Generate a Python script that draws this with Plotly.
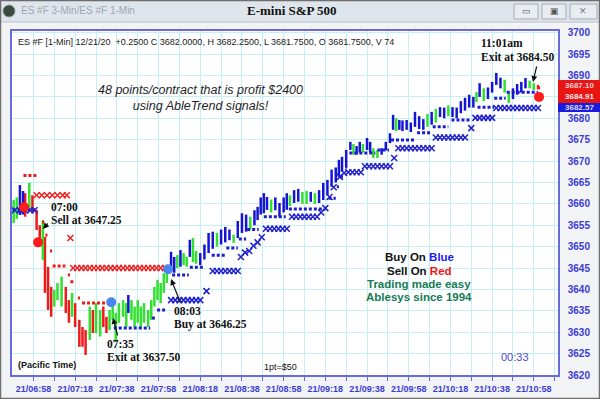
import plotly.graph_objects as go

# ---------------- data (minutes after 06:58, 21 Dec 2020, Pacific time) ----------------
bar_time = [-9.5, -8, -6.5, -5, -4, -2, -0.5, 1.5, 3, 4.5, 5.5, 7, 8.5, 10, 11.5, 13.5, 15.5, 17, 18.5, 20,
            22, 23.5, 25, 27, 28.5, 30, 32, 33.5, 35, 36.5, 38, 39.5, 41, 43, 44.5, 45.5, 47, 48.5, 50, 51.5,
            53, 55, 56.5, 58, 59.5, 61, 62.5, 64, 66, 67.5, 69, 70.5, 72, 73.5, 75, 76.5, 78, 80, 82, 84,
            86, 88, 90, 92, 94, 96, 98, 100, 102, 104, 106, 107.5, 109, 110.5, 112, 114, 116, 118, 120, 121.5,
            123, 125, 127, 129, 131, 133, 135, 137, 139, 141, 143, 145, 146.5, 148, 150, 152, 153.5, 155, 156.5, 158,
            160, 161.5, 163, 165, 167, 169, 171, 172.5, 174, 175.5, 177, 179, 181, 183, 185, 187, 189, 191, 193, 195,
            197, 199, 201, 203, 205, 207, 209, 211, 212.5, 214, 216, 218, 220, 222, 224, 226, 228, 230, 232, 234,
            236, 238, 240, 242]
bar_low = [3655.5, 3656.5, 3657.4, 3657.5, 3657.0, 3658.6, 3657.8, 3653.9, 3651.6, 3646.9, 3639.2, 3635.2, 3633.6, 3636.0, 3637.5, 3636.0, 3634.5, 3632.2, 3633.6, 3631.2,
           3626.6, 3626.6, 3624.7, 3628.2, 3629.8, 3629.8, 3629.0, 3631.2, 3629.8, 3630.5, 3632.9, 3628.0, 3632.2, 3633.6, 3631.2, 3634.5, 3632.9, 3631.2, 3632.2, 3631.2,
           3632.2, 3631.2, 3632.9, 3636.0, 3637.5, 3636.8, 3639.2, 3641.5, 3644.5, 3643.9, 3645.0, 3645.3, 3645.7, 3645.3, 3647.6, 3646.4, 3646.0, 3645.7, 3647.0, 3648.5,
           3649.5, 3650.0, 3650.5, 3651.0, 3651.5, 3650.9, 3652.0, 3653.2, 3653.5, 3654.0, 3655.0, 3656.2, 3657.5, 3657.8, 3658.6, 3658.0, 3658.5, 3657.0, 3658.0, 3658.6,
           3659.5, 3660.2, 3660.5, 3660.0, 3660.0, 3660.5, 3660.0, 3660.2, 3660.9, 3662.0, 3664.0, 3665.0, 3666.3, 3667.5, 3668.6, 3672.6, 3671.5, 3671.5, 3672.0, 3672.0,
           3672.6, 3672.0, 3670.7, 3670.7, 3671.5, 3672.5, 3674.2, 3677.3, 3677.0, 3677.3, 3677.0, 3677.3, 3676.8, 3678.0, 3677.5, 3677.3, 3678.0, 3678.5, 3679.0, 3680.3,
           3680.0, 3680.5, 3680.3, 3680.0, 3681.2, 3681.8, 3682.5, 3682.5, 3683.8, 3685.0, 3684.0, 3684.5, 3686.0, 3687.8, 3687.0, 3686.0, 3683.6, 3684.5, 3685.5, 3686.0,
           3687.0, 3687.0, 3686.6, 3686.8]
bar_high = [3660.9, 3661.5, 3664.4, 3663.0, 3662.5, 3664.9, 3662.0, 3658.6, 3655.0, 3656.2, 3652.3, 3645.3, 3640.6, 3639.9, 3641.5, 3643.0, 3640.6, 3637.5, 3639.2, 3636.8,
            3632.9, 3631.2, 3630.5, 3636.0, 3635.2, 3636.8, 3635.2, 3636.0, 3633.6, 3635.2, 3636.8, 3634.5, 3636.8, 3637.5, 3636.8, 3638.7, 3637.5, 3636.0, 3637.5, 3636.0,
            3636.8, 3635.2, 3637.5, 3640.6, 3642.2, 3641.5, 3643.8, 3645.3, 3648.8, 3647.6, 3648.0, 3649.2, 3648.5, 3647.6, 3651.6, 3652.0, 3649.0, 3648.5, 3650.5, 3653.2,
            3653.5, 3653.2, 3654.0, 3654.6, 3654.0, 3652.8, 3656.0, 3657.8, 3657.5, 3657.0, 3658.5, 3659.3, 3661.5, 3662.5, 3661.6, 3661.0, 3661.5, 3660.2, 3661.5, 3662.5,
            3662.0, 3663.2, 3663.5, 3662.8, 3663.0, 3662.8, 3662.5, 3663.2, 3664.9, 3665.6, 3668.0, 3668.5, 3670.3, 3671.0, 3672.6, 3674.5, 3674.0, 3673.5, 3674.5, 3674.0,
            3675.4, 3674.5, 3673.0, 3672.6, 3673.0, 3674.5, 3676.5, 3680.8, 3680.0, 3679.6, 3679.5, 3679.6, 3679.0, 3681.5, 3680.5, 3679.8, 3681.0, 3681.5, 3682.2, 3682.6,
            3682.5, 3683.0, 3682.6, 3682.5, 3684.0, 3684.8, 3685.5, 3685.0, 3686.1, 3688.2, 3687.0, 3687.2, 3688.5, 3690.6, 3689.5, 3689.0, 3686.1, 3687.0, 3688.0, 3688.5,
            3689.4, 3688.8, 3688.2, 3687.8]
bar_trend = ["g", "g", "b", "b", "r", "g", "r", "r", "r", "g", "r", "r", "r", "g", "g", "g", "r", "r", "g", "r",
             "r", "r", "r", "g", "r", "g", "g", "r", "r", "g", "g", "g", "g", "g", "g", "b", "g", "g", "g", "g",
             "g", "g", "g", "g", "g", "g", "g", "g", "b", "b", "g", "b", "g", "g", "b", "g", "g", "b", "b", "b",
             "b", "g", "b", "b", "b", "g", "b", "b", "b", "g", "b", "b", "b", "b", "b", "g", "b", "b", "b", "b",
             "g", "b", "b", "g", "g", "b", "g", "b", "b", "b", "b", "b", "b", "b", "b", "b", "g", "b", "b", "g",
             "b", "b", "g", "g", "b", "b", "b", "b", "g", "b", "b", "b", "b", "b", "b", "b", "g", "b", "g", "b",
             "b", "g", "b", "b", "b", "b", "b", "b", "g", "b", "g", "b", "b", "b", "b", "g", "g", "b", "b", "b",
             "b", "g", "g", "r"]

# trailing stop levels (start minute, end minute, price)
red_stop_start = [-4.8, 4.2, 5.7, 7.9, 9.2, 16.5, 17.7, 21.3, 23.3, 241.8]
red_stop_end = [1.4, 5.2, 6.7, 8.9, 15.3, 17.5, 20.0, 22.3, 37.0, 243.0]
red_stop_price = [3666.6, 3655.7, 3652.7, 3649.0, 3645.5, 3643.4, 3641.8, 3638.0, 3636.8, 3687.1]

blue_stop_start = [-10.0, 38.5, 56.8, 59.3, 66.5, 75.0, 85.5, 92.5, 98.5, 102.5, 110.5, 122.5, 141.5, 145.5, 147.0,
                   149.5, 151.5, 165.0, 171.5, 184.0, 191.5, 200.5, 213.0, 221.0, 227.0]
blue_stop_end = [0.8, 56.0, 58.8, 64.0, 74.5, 82.0, 92.0, 98.0, 102.0, 108.0, 121.0, 140.0, 145.0, 146.5, 148.5,
                 150.5, 164.0, 170.5, 183.5, 191.0, 199.0, 210.0, 221.0, 226.5, 242.0]
blue_stop_price = [3658.6, 3631.0, 3633.3, 3635.2, 3643.4, 3645.2, 3648.0, 3649.7, 3651.8, 3654.0, 3657.0, 3658.8,
                   3661.3, 3664.0, 3666.3, 3668.6, 3671.9, 3672.6, 3674.9, 3676.6, 3678.0, 3679.6, 3682.6, 3684.7, 3686.1]

# signal crosses
red_x_time = [1.5, 4, 6.5, 9, 11.5, 14, 16, 17.7, 19, 21, 23, 25, 27, 29, 31, 33, 35, 37, 39, 41, 43, 45, 47, 49,
              51, 53, 55, 57, 59, 61, 63]
red_x_price = [3662.0, 3662.0, 3662.0, 3662.0, 3662.0, 3662.0, 3662.0, 3652.0] + [3645.0] * 23

blue_x_time = [-9, -6.5, -4, -1.5, 0.5,
               66, 68, 70, 72, 74, 76, 78, 80, 83,
               86, 88, 90, 92, 94, 96, 98,
               99.5, 101.5, 103.5, 105.5, 107.5, 109.5,
               111.5, 113.5, 115.5, 117.5, 119.5, 121.5,
               124, 126, 128, 130, 132, 134, 136, 138, 140,
               142, 144, 147, 149,
               151, 153, 155, 157,
               159, 161, 163, 165, 167, 169, 171, 173,
               175, 177, 179, 181, 183, 185, 187, 189, 191,
               193, 195, 197, 199, 201, 203, 205, 207, 210,
               212, 214, 216, 218, 220,
               222, 224, 226, 228, 230, 232, 234, 236, 238, 240, 242]
blue_x_price = [3658.5] * 5 + [3637.5] * 8 + [3639.6] + [3644.3] * 7 + \
               [3647.6, 3648.6, 3649.0, 3650.2, 3651.0, 3652.2] + [3654.2] * 6 + \
               [3657.0] * 7 + [3658.0, 3659.0] + [3661.6, 3663.9, 3666.3, 3667.2] + [3667.4] * 4 + \
               [3668.8] * 7 + [3670.7] + [3673.0] * 9 + [3675.5] * 8 + [3677.7] + [3680.1] * 5 + [3682.4] * 11

# entry / exit dots
signal_time = [-4.5, 2.2, 37.3, 64.6, 242.5]
signal_price = [3659.2, 3651.0, 3637.0, 3644.7, 3685.0]
signal_side = ["sell", "sell", "buy", "buy", "sell"]

tick_minutes = list(range(0, 251, 10))
tick_labels = ["21/06:58", "", "21/07:18", "", "21/07:38", "", "21/07:58", "", "21/08:18", "", "21/08:38", "",
               "21/08:58", "", "21/09:18", "", "21/09:38", "", "21/09:58", "", "21/10:18", "", "21/10:38", "",
               "21/10:58", ""]
price_ticks = list(range(3620, 3701, 5))
price_tick_labels = ["" if v == 3685 else str(v) for v in price_ticks]  # 3685 is hidden under the value boxes

# ---------------- styling / layout helpers ----------------
W, H = 600, 399
ML, MR, MT, MB = 12, 42, 31, 24
PW, PH = W - ML - MR, H - MT - MB


def px(x):
    return (x - ML) / PW


def py(y):
    return (H - MB - y) / PH


COL = {"g": "#2fe02f", "r": "#ee1a1a", "b": "#1414d2"}
AXIS_BLUE = "#3b3bd6"

fig = go.Figure()

# price bars by trend colour
for key in ["r", "g", "b"]:
    xs, ys = [], []
    for t, lo, hi, c in zip(bar_time, bar_low, bar_high, bar_trend):
        if c == key:
            xs += [t, t, None]
            ys += [lo, hi, None]
    fig.add_trace(go.Scatter(x=xs, y=ys, mode="lines", line=dict(color=COL[key], width=2.5),
                             hoverinfo="skip", showlegend=False))


def stop_trace(starts, ends, prices, color):
    xs, ys = [], []
    for a, b, p in zip(starts, ends, prices):
        xs += [a, b, None]
        ys += [p, p, None]
    return go.Scatter(x=xs, y=ys, mode="lines", line=dict(color=color, width=3, dash="3px,2px"),
                      hoverinfo="skip", showlegend=False)


fig.add_trace(stop_trace(red_stop_start, red_stop_end, red_stop_price, "#ee1a1a"))
fig.add_trace(stop_trace(blue_stop_start, blue_stop_end, blue_stop_price, "#1c1cd0"))

fig.add_trace(go.Scatter(x=red_x_time, y=red_x_price, mode="markers",
                         marker=dict(symbol="x-thin", size=6, line=dict(color="#ee2020", width=1.5)),
                         hoverinfo="skip", showlegend=False))
fig.add_trace(go.Scatter(x=blue_x_time, y=blue_x_price, mode="markers",
                         marker=dict(symbol="x-thin", size=6, line=dict(color="#2020cc", width=1.5)),
                         hoverinfo="skip", showlegend=False))

sig_colors = ["#ff1c1c" if s == "sell" else "#4a86ec" for s in signal_side]
fig.add_trace(go.Scatter(x=signal_time, y=signal_price, mode="markers",
                         marker=dict(size=10, color=sig_colors, line=dict(width=0)),
                         hoverinfo="skip", showlegend=False))

shapes = []
# window chrome
shapes.append(dict(type="rect", xref="paper", yref="paper", x0=px(0), x1=px(600), y0=py(22), y1=py(0),
                   fillcolor="#dfe5ec", line=dict(width=0), layer="below"))
shapes.append(dict(type="line", xref="paper", yref="paper", x0=px(0), x1=px(600), y0=py(22), y1=py(22),
                   line=dict(color="#b8c0ca", width=1)))
for bx0, bx1 in [(514, 538), (542, 566), (570, 597)]:
    shapes.append(dict(type="rect", xref="paper", yref="paper", x0=px(bx0), x1=px(bx1), y0=py(19), y1=py(4),
                       fillcolor="#e9edf2", line=dict(color="#a3abb6", width=1)))
shapes.append(dict(type="rect", xref="paper", yref="paper", x0=px(0.5), x1=px(599.5), y0=py(398.5), y1=py(0.5),
                   line=dict(color="#6e6e6e", width=1.5)))
shapes.append(dict(type="circle", xref="paper", yref="paper", x0=px(3), x1=px(15), y0=py(17), y1=py(5),
                   fillcolor="#3b4a3e", line=dict(color="#8a9a8c", width=1)))
# last-value boxes on the price scale
shapes.append(dict(type="rect", xref="paper", yref="paper", x0=px(558), x1=px(600), y0=py(103), y1=py(80),
                   fillcolor="#e81515", line=dict(width=0), layer="above"))
shapes.append(dict(type="rect", xref="paper", yref="paper", x0=px(558), x1=px(600), y0=py(112), y1=py(103),
                   fillcolor="#1a1ae0", line=dict(width=0), layer="above"))

ann = []


def txt(x, y, s, size=9, color="#111", family="Liberation Sans", xanchor="left", weight="normal", **kw):
    ann.append(dict(xref="paper", yref="paper", x=px(x), y=py(y), text=s, showarrow=False,
                    xanchor=xanchor, yanchor="middle", borderpad=0,
                    font=dict(size=size, color=color, family=family, weight=weight), **kw))


def arrow(tail, head):
    ann.append(dict(xref="paper", yref="paper", x=px(head[0]), y=py(head[1]), text="", showarrow=True,
                    ax=tail[0] - head[0], ay=tail[1] - head[1], arrowhead=2, arrowsize=1, arrowwidth=1.2,
                    arrowcolor="#111"))


SERIF = "Liberation Serif"
txt(20, 11, "ES #F 3-Min/ES #F 1-Min", size=10, color="#a0a6ae")
txt(292, 11, "E-mini S&P 500", size=13, color="#111", family=SERIF, xanchor="center", weight="bold")
txt(526, 11, "▭", size=9, color="#555", xanchor="center")
txt(554, 11, "▣", size=9, color="#555", xanchor="center")
txt(583, 11, "✕", size=9, color="#777", xanchor="center")

txt(17, 42, "ES #F [1-Min] 12/21/20  +0.2500 C 3682.0000, H 3682.2500, L 3681.7500, O 3681.7500, V 74",
    size=9, color="#1a1a1a")
txt(97, 98, "<i>48 points/contract that is profit $2400<br>using AbleTrend signals!</i>", size=12.5,
    color="#1e1e28")

SZ = 11.5
txt(50, 206.5, "07:00", size=SZ, family=SERIF, weight="bold")
txt(50, 219.5, "Sell at 3647.25", size=SZ, family=SERIF, weight="bold")
arrow((49, 222), (43, 229))
txt(106, 343.5, "07:35", size=SZ, family=SERIF, weight="bold")
txt(106, 357, "Exit at 3637.50", size=SZ, family=SERIF, weight="bold")
arrow((118, 337), (113, 318))
txt(173, 310.5, "08:03", size=SZ, family=SERIF, weight="bold")
txt(173, 324, "Buy at 3646.25", size=SZ, family=SERIF, weight="bold")
arrow((181, 304), (171, 279))
txt(480, 43.5, "11:01am", size=SZ, family=SERIF, weight="bold")
txt(480, 57, "Exit at 3684.50", size=SZ, family=SERIF, weight="bold")
arrow((537, 65), (533, 82))

txt(419, 257, "Buy On <span style='color:#1a1af0'>Blue</span>", size=11.5, xanchor="center", weight="bold")
txt(419, 271, "Sell On <span style='color:#f01414'>Red</span>", size=11.5, xanchor="center", weight="bold")
txt(419, 284, "Trading made easy", size=11.5, color="#157a55", xanchor="center", weight="bold")
txt(419, 297, "Ablesys since 1994", size=11.5, color="#157a55", xanchor="center", weight="bold")

txt(17, 365, "(Pacific Time)", size=9, weight="bold")
txt(280, 367, "1pt=$50", size=9, xanchor="center")
txt(515, 357, "00:33", size=11, color="#4a4ad0", xanchor="center")

txt(579, 85.5, "3687.10", size=8, color="#f4d0d0", xanchor="center", weight="bold")
txt(579, 96.5, "3684.91", size=8, color="#fbe6e6", xanchor="center", weight="bold")
txt(579, 107.5, "3682.57", size=8, color="#dcdcf0", xanchor="center", weight="bold")

fig.update_layout(
    width=W, height=H,
    margin=dict(l=ML, r=MR, t=MT, b=MB, pad=0, autoexpand=False),
    paper_bgcolor="#f2f3f5",
    plot_bgcolor="#ffffff",
    showlegend=False,
    shapes=shapes,
    annotations=ann,
    xaxis=dict(range=[-10.3, 251.6], tickvals=tick_minutes, ticktext=tick_labels, automargin=False,
               showgrid=True, gridcolor="#c4f0f4", gridwidth=1, zeroline=False,
               showline=True, mirror=True, linecolor="#6a6ae0", linewidth=1.5,
               ticks="outside", ticklen=4, tickcolor="#6a6ae0",
               tickfont=dict(size=9, color=AXIS_BLUE, family="Liberation Sans", weight="bold")),
    yaxis=dict(range=[3620, 3700.4], side="right", tickvals=price_ticks, ticktext=price_tick_labels,
               automargin=False,
               showgrid=True, gridcolor="#c4f0f4", gridwidth=1, zeroline=False,
               showline=True, mirror=True, linecolor="#6a6ae0", linewidth=1.5,
               ticks="", ticklabelstandoff=6,
               tickfont=dict(size=10, color=AXIS_BLUE, family="Liberation Sans", weight="bold")),
)

fig.write_html("out.html", config={"displayModeBar": False},
               post_script="document.body.style.margin='0';document.body.style.overflow='hidden';")
